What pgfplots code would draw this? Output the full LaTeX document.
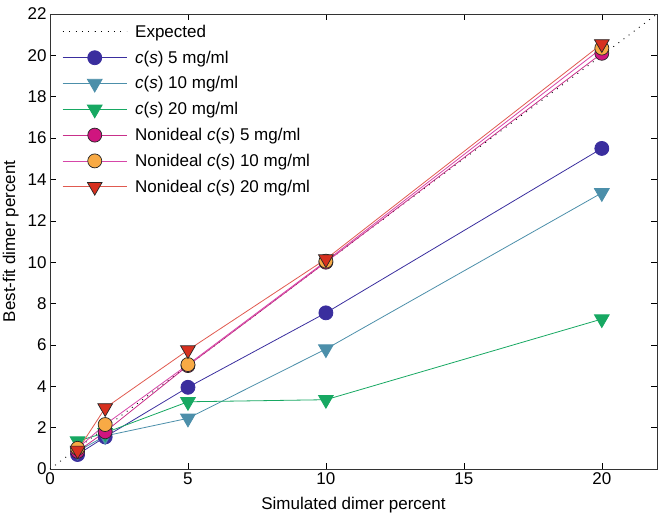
\documentclass[border=0pt]{standalone}
\usepackage{fontspec}
\setmainfont{Liberation Sans}
\usepackage{pgfplots}
\pgfplotsset{compat=1.18}

\definecolor{cfive}{HTML}{3A2E9E}
\definecolor{cten}{HTML}{4C8FAA}
\definecolor{ctwenty}{HTML}{17A862}
\definecolor{nfive}{HTML}{D0157F}
\definecolor{nfiveline}{HTML}{C8308A}
\definecolor{ntenfill}{HTML}{F8AA45}
\definecolor{ntenline}{HTML}{D646A8}
\definecolor{ntwenty}{HTML}{D7301F}
\definecolor{ntwentyline}{HTML}{E05A50}

\newcommand{\fs}{\fontsize{17bp}{20bp}\selectfont}

\begin{document}
\begin{tikzpicture}[font=\fs]
\begin{axis}[
  scale only axis, width=607bp, height=455bp,
  xmin=0, xmax=22, ymin=0, ymax=22,
  xtick={0,5,10,15,20}, ytick={0,2,...,22},
  tick align=inside, major tick length=6bp,
  tick style={black, line width=0.6bp},
  axis line style={black!80, line width=0.8bp},
  tick label style={font=\fs},
  /pgf/number format/assume math mode=true,
  xlabel={Simulated dimer percent},
  ylabel={Best-fit dimer percent},
  label style={font=\fs},
  xlabel style={yshift=-6bp},
  ylabel style={yshift=2bp},
  legend cell align=left,
  legend style={draw=none, fill=none, font=\fs,
    at={(rel axis cs:0.015,0.985)}, anchor=north west,
    row sep=8bp},
  legend image code/.code={
    \draw[mark repeat=2, mark phase=2] plot coordinates {(0bp,0bp)(32bp,0bp)(64bp,0bp)};
    \path (70bp,0bp);},
  every axis plot/.append style={line width=0.8bp},
]
\addplot[black, line width=0.9bp, dash pattern=on 0.9bp off 5.5bp] coordinates {(0,0)(22,22)};
\addlegendentry{Expected}

\addplot[cfive, mark=*, mark size=7bp, mark options={fill=cfive, draw=cfive}]
  coordinates {(1,0.7)(2,1.55)(5,3.95)(10,7.55)(20,15.5)};
\addlegendentry{\textit{c}(\textit{s}) 5 mg/ml}

\addplot[cten, mark=triangle*, mark size=8.5bp, mark options={fill=cten, draw=cten, rotate=180}]
  coordinates {(1,0.85)(2,1.6)(5,2.45)(10,5.8)(20,13.35)};
\addlegendentry{\textit{c}(\textit{s}) 10 mg/ml}

\addplot[ctwenty, mark=triangle*, mark size=8.5bp, mark options={fill=ctwenty, draw=ctwenty, rotate=180}]
  coordinates {(1,1.35)(2,1.75)(5,3.25)(10,3.35)(20,7.25)};
\addlegendentry{\textit{c}(\textit{s}) 20 mg/ml}

\addplot[nfiveline, mark=*, mark size=7bp, mark options={fill=nfive, draw=black!85, line width=0.7bp}]
  coordinates {(1,0.85)(2,1.8)(5,5.0)(10,10.0)(20,20.1)};
\addlegendentry{Nonideal \textit{c}(\textit{s}) 5 mg/ml}

\addplot[ntenline, mark=*, mark size=7bp, mark options={fill=ntenfill, draw=black!85, line width=0.7bp}]
  coordinates {(1,1.0)(2,2.15)(5,5.05)(10,10.05)(20,20.35)};
\addlegendentry{Nonideal \textit{c}(\textit{s}) 10 mg/ml}

\addplot[ntwentyline, mark=triangle*, mark size=8.5bp, mark options={fill=ntwenty, draw=black!85, line width=0.7bp, rotate=180}]
  coordinates {(1,0.9)(2,2.95)(5,5.75)(10,10.15)(20,20.55)};
\addlegendentry{Nonideal \textit{c}(\textit{s}) 20 mg/ml}
\end{axis}
\pgfresetboundingbox
\path[use as bounding box] (current axis.south west) ++(-50bp,-49bp) rectangle ([shift={(3bp,14bp)}]current axis.north east);
\end{tikzpicture}
\end{document}
